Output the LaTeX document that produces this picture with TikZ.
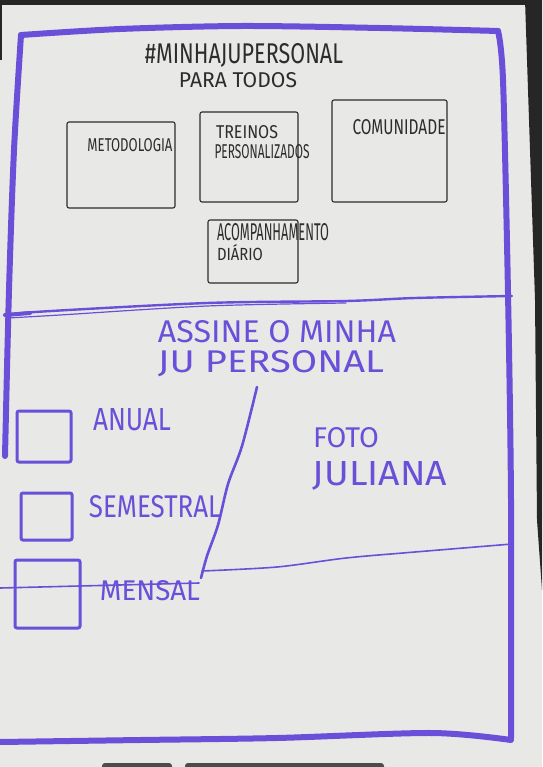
\documentclass[tikz,border=0pt]{standalone}
\usepackage{fontspec}
\setmainfont{Fira Sans}
\usepackage{graphicx}
\definecolor{paper}{HTML}{E8E9E6}
\definecolor{pen}{HTML}{6A4FD9}
\definecolor{pencil}{HTML}{2C2C2C}
\newcommand{\fitto}[3]{\resizebox{#1pt}{#2pt}{#3}}
\tikzset{
  penline/.style={draw=pen, line cap=round, line join=round},
  frameline/.style={penline, line width=6},
  thinpen/.style={penline, line width=2},
  pencilbox/.style={draw=pencil, line width=1.1, rounded corners=2, inner sep=0, fill=none},
  checkbox/.style={draw=pen, line width=3, rounded corners=2, inner sep=0},
  pentext/.style={text=pen, inner sep=0},
  penciltext/.style={text=pencil, inner sep=0},
}
\begin{document}
\begin{tikzpicture}[x=1pt, y=-1pt]
\useasboundingbox (0,0) rectangle (542,767);
% photo background: paper and dark surround
\fill[paper] (0,0) rectangle (542,767);
\fill[black!85] (0,0) rectangle (542,5);
\fill[black!85] (0,0) rectangle (2,60);
\fill[black!85] (525,0) -- (542,0) -- (542,590) -- (537,520) -- (535,300) -- cycle;
\fill[black!70, rounded corners=3] (102,763) rectangle (172,772);
\fill[black!70, rounded corners=3] (185,763) rectangle (384,772);

% outer frame
\draw[frameline] plot[smooth] coordinates {(5,456) (9,290) (14,150) (21,35)};
\draw[frameline] plot[smooth] coordinates {(21,35) (120,29) (242,26) (380,28) (498,31)};
\draw[frameline] plot[smooth] coordinates {(498,31) (503,80) (508,293) (511,500) (511,738)};
\draw[frameline] plot[smooth] coordinates {(0,742) (140,740) (277,738) (432,733) (511,740)};
% divider between the two sections
\draw[thinpen, line width=2.4] plot[smooth] coordinates {(5,316) (35,312) (207,303) (346,301) (415,298) (512,296)};
\draw[thinpen, line width=1.2] plot[smooth] coordinates {(8,318) (60,315) (207,306) (346,303)};
\draw[penline, line width=4] (5,315) -- (30,313);

% top section: header
\node[penciltext] (title) at (244,55) {\fitto{198}{20}{\#MINHAJUPERSONAL}};
\node[penciltext] (sub) at (238,80) {\fitto{118}{15}{PARA TODOS}};

% content boxes
\node[pencilbox, minimum width=108, minimum height=86] (met) at (121,165) {};
\node[pencilbox, minimum width=98, minimum height=90] (tre) at (249,157) {};
\node[pencilbox, minimum width=115, minimum height=102] (com) at (389.5,151) {};
\node[pencilbox, minimum width=90, minimum height=63] (aco) at (253,251.5) {};
\node[penciltext] (metT) at (130,145) {\fitto{85}{13}{METODOLOGIA}};
\node[penciltext] (treT1) at (247,132) {\fitto{62}{13}{TREINOS}};
\node[penciltext] (treT2) at (262,152) {\fitto{95}{14}{PERSONALIZADOS}};
\node[penciltext] (comT) at (399,127) {\fitto{93}{15}{COMUNIDADE}};
\node[penciltext] (acoT1) at (273,232) {\fitto{112}{17}{ACOMPANHAMENTO}};
\node[penciltext] (acoT2) at (240,253) {\fitto{46}{16}{DIÁRIO}};

% bottom section: subscription
\node[pentext] (call1) at (277,332) {\fitto{238}{22}{ASSINE O MINHA}};
\node[pentext] (call2) at (271,364) {\fitto{226}{22}{JU PERSONAL}};

\node[checkbox, minimum width=54, minimum height=51] (cb1) at (44,436.5) {};
\node[checkbox, minimum width=51, minimum height=47] (cb2) at (46.5,516.5) {};
\node[checkbox, minimum width=65, minimum height=68] (cb3) at (47.5,594) {};
\node[pentext] (anual) at (132,420) {\fitto{78}{22}{ANUAL}};
\node[pentext] (sem) at (155,507) {\fitto{132}{22}{SEMESTRAL}};
\node[pentext] (men) at (150,591) {\fitto{100}{20}{MENSAL}};

\node[pentext] (foto1) at (346,438) {\fitto{66}{20}{FOTO}};
\node[pentext] (foto2) at (380,476) {\fitto{134}{24}{JULIANA}};

% column split and lower divider
\draw[thinpen, line width=2.6] plot[smooth] coordinates {(257,387) (242,446) (228,484) (218,525) (207,556) (201,578)};
\draw[thinpen, line width=1.6] (0,588) -- (199,583);
\draw[thinpen, line width=1.6] plot[smooth] coordinates {(202,571) (277,567) (346,558) (415,552) (512,544)};
\end{tikzpicture}
\end{document}
